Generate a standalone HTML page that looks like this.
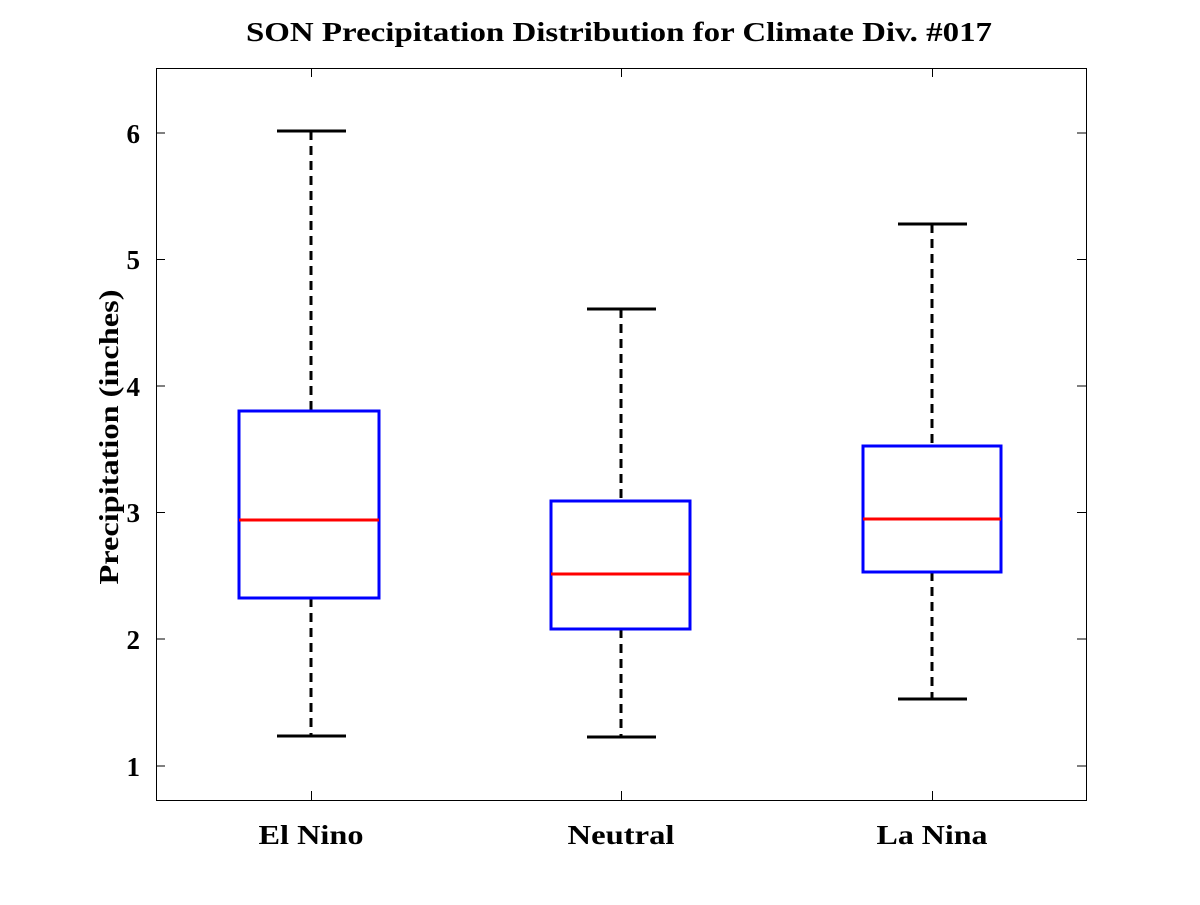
<!DOCTYPE html>
<html><head><style>body{margin:0;background:#fff}</style></head><body>
<svg width="1200" height="900" xmlns="http://www.w3.org/2000/svg" font-family="Liberation Serif, serif" font-weight="bold">
<rect width="1200" height="900" fill="#fff"/>
<text x="619" y="41" font-size="27" text-anchor="middle" textLength="746" lengthAdjust="spacingAndGlyphs">SON Precipitation Distribution for Climate Div. #017</text>
<rect x="156.5" y="68.5" width="930" height="732" fill="none" stroke="#000" stroke-width="1"/>
<g stroke="#000" stroke-width="1">
<line x1="156" y1="133" x2="165" y2="133"/><line x1="1086" y1="133" x2="1077" y2="133"/>
<line x1="156" y1="259.5" x2="165" y2="259.5"/><line x1="1086" y1="259.5" x2="1077" y2="259.5"/>
<line x1="156" y1="386" x2="165" y2="386"/><line x1="1086" y1="386" x2="1077" y2="386"/>
<line x1="156" y1="512.5" x2="165" y2="512.5"/><line x1="1086" y1="512.5" x2="1077" y2="512.5"/>
<line x1="156" y1="639" x2="165" y2="639"/><line x1="1086" y1="639" x2="1077" y2="639"/>
<line x1="156" y1="766" x2="165" y2="766"/><line x1="1086" y1="766" x2="1077" y2="766"/>
<line x1="311.5" y1="800" x2="311.5" y2="791"/><line x1="311.5" y1="68" x2="311.5" y2="77"/>
<line x1="621.5" y1="800" x2="621.5" y2="791"/><line x1="621.5" y1="68" x2="621.5" y2="77"/>
<line x1="932.5" y1="800" x2="932.5" y2="791"/><line x1="932.5" y1="68" x2="932.5" y2="77"/>
</g>
<g font-size="27" text-anchor="end">
<text x="140" y="143">6</text><text x="140" y="269">5</text><text x="140" y="396">4</text>
<text x="140" y="522">3</text><text x="140" y="649">2</text><text x="140" y="776">1</text>
</g>
<g font-size="27" text-anchor="middle">
<text x="311" y="844" textLength="105" lengthAdjust="spacingAndGlyphs">El Nino</text>
<text x="621" y="844" textLength="107" lengthAdjust="spacingAndGlyphs">Neutral</text>
<text x="932" y="844" textLength="111" lengthAdjust="spacingAndGlyphs">La Nina</text>
</g>
<text transform="translate(118,437) rotate(-90)" font-size="27" text-anchor="middle" textLength="295" lengthAdjust="spacingAndGlyphs">Precipitation (inches)</text>
<g stroke="#000" stroke-width="3" stroke-dasharray="9,6" fill="none">
<line x1="311" y1="131" x2="311" y2="411"/><line x1="311" y1="598" x2="311" y2="736"/>
<line x1="621" y1="309" x2="621" y2="501"/><line x1="621" y1="629" x2="621" y2="737"/>
<line x1="932" y1="224" x2="932" y2="446"/><line x1="932" y1="572" x2="932" y2="699"/>
</g>
<g stroke="#000" stroke-width="3">
<line x1="277" y1="131" x2="346" y2="131"/><line x1="277" y1="736" x2="346" y2="736"/>
<line x1="587" y1="309" x2="656" y2="309"/><line x1="587" y1="737" x2="656" y2="737"/>
<line x1="898" y1="224" x2="967" y2="224"/><line x1="898" y1="699" x2="967" y2="699"/>
</g>
<g stroke="#0000ff" stroke-width="3" fill="none">
<rect x="239" y="411" width="140" height="187"/>
<rect x="551" y="501" width="139" height="128"/>
<rect x="863" y="446" width="138" height="126"/>
</g>
<g stroke="#ff0000" stroke-width="3">
<line x1="239" y1="520" x2="379" y2="520"/>
<line x1="551" y1="574" x2="690" y2="574"/>
<line x1="863" y1="519" x2="1001" y2="519"/>
</g>
</svg>
</body></html>
